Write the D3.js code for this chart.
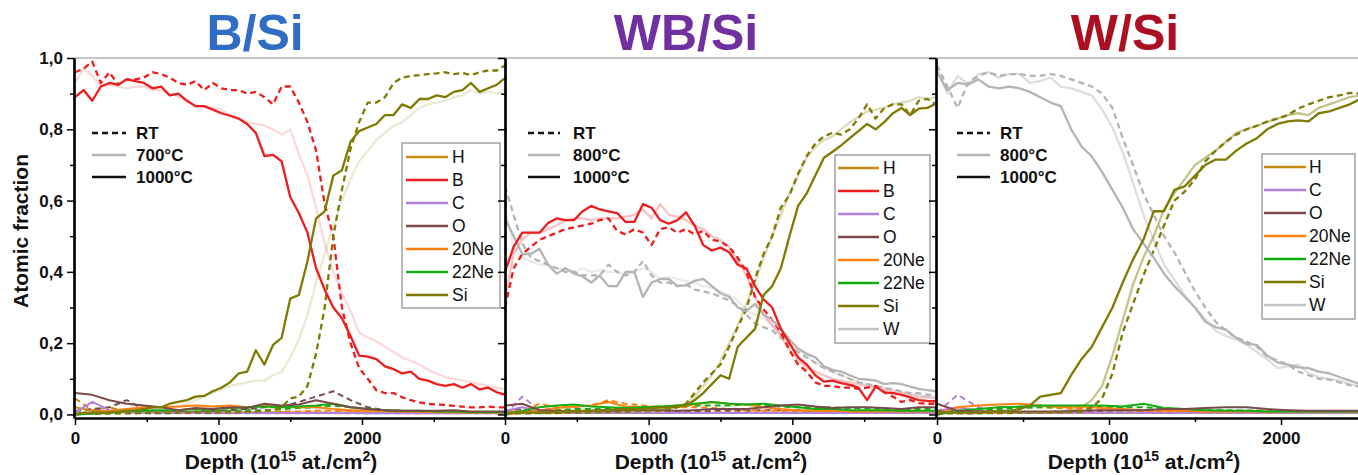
<!DOCTYPE html>
<html><head><meta charset="utf-8">
<script src="https://cdn.jsdelivr.net/npm/d3@7"></script>
<style>body{margin:0;background:#fff;overflow:hidden} text{font-family:"Liberation Sans",Arial,sans-serif}</style>
</head><body><svg id="c" width="1358" height="475"></svg>
<script>
// ---------- depth grids (10^15 at./cm^2) ----------
const depthFine = [0,60,120,180,240,300,360,420,480,540,600,660,720,780,840,900,960,1020,1080,1140,1200,1260,1320,1380,1440,1500,1560,1620,1680,1740,1800,1860,1920,1980,2040,2100,2160,2220,2280,2340,2400,2460,2520,2580,2640,2700,2760,2820,2880,2940,3000];
const depthCoarse = [0,120,240,360,480,600,720,840,960,1080,1200,1320,1440,1560,1680,1800,1920,2040,2160,2280,2400,2520,2640,2760,2880,3000];

// ---------- labels ----------
const titles = ["B/Si","WB/Si","W/Si"];
const condLabels = [["RT","700°C","1000°C"],["RT","800°C","1000°C"],["RT","800°C","1000°C"]];
const legendEls = [["H","B","C","O","20Ne","22Ne","Si"],["H","B","C","O","20Ne","22Ne","Si","W"],["H","C","O","20Ne","22Ne","Si","W"]];
const xTicks = [0,1000,2000];
const xMinor = [500,1500,2500];
const yTicks = [0,0.2,0.4,0.6,0.8,1.0];
const yMinor = [0.1,0.3,0.5,0.7,0.9];

// ---------- Panel 1: B/Si ----------
const p1_B_1000 = [0.89,0.91,0.88,0.92,0.93,0.925,0.94,0.935,0.93,0.915,0.92,0.895,0.90,0.88,0.865,0.865,0.855,0.845,0.838,0.83,0.815,0.79,0.725,0.728,0.71,0.61,0.565,0.51,0.41,0.35,0.30,0.27,0.22,0.165,0.162,0.155,0.135,0.127,0.115,0.12,0.10,0.095,0.085,0.08,0.085,0.075,0.085,0.07,0.075,0.062,0.055];
const p1_B_RT = [0.96,0.97,0.99,0.93,0.96,0.925,0.94,0.94,0.945,0.96,0.955,0.945,0.93,0.925,0.935,0.91,0.93,0.915,0.91,0.91,0.90,0.905,0.89,0.87,0.92,0.92,0.875,0.82,0.74,0.59,0.50,0.30,0.20,0.13,0.10,0.068,0.06,0.06,0.048,0.04,0.034,0.03,0.028,0.027,0.024,0.022,0.02,0.02,0.022,0.02,0.02];
const p1_B_700 = [0.93,0.97,0.95,0.92,0.925,0.92,0.915,0.92,0.92,0.91,0.91,0.90,0.89,0.88,0.865,0.865,0.86,0.855,0.84,0.83,0.82,0.815,0.81,0.80,0.785,0.80,0.73,0.67,0.58,0.48,0.40,0.34,0.29,0.23,0.215,0.205,0.19,0.175,0.16,0.15,0.14,0.125,0.115,0.105,0.10,0.095,0.09,0.085,0.08,0.075,0.07];
const p1_Si_1000 = [0.0,0.005,0.005,0.005,0.005,0.008,0.01,0.012,0.015,0.02,0.02,0.03,0.035,0.04,0.05,0.052,0.065,0.075,0.09,0.115,0.12,0.18,0.14,0.195,0.215,0.325,0.335,0.43,0.55,0.57,0.67,0.685,0.765,0.795,0.805,0.815,0.84,0.84,0.87,0.86,0.885,0.885,0.895,0.89,0.905,0.91,0.93,0.905,0.915,0.925,0.945];
const p1_Si_RT = [0.002,0.002,0.002,0.002,0.003,0.003,0.003,0.003,0.004,0.004,0.004,0.004,0.005,0.005,0.005,0.005,0.005,0.006,0.006,0.006,0.007,0.008,0.01,0.012,0.02,0.045,0.05,0.08,0.17,0.30,0.50,0.63,0.745,0.82,0.875,0.875,0.89,0.93,0.945,0.95,0.952,0.955,0.957,0.96,0.955,0.958,0.952,0.96,0.965,0.965,0.98];
const p1_Si_700 = [0.003,0.003,0.003,0.004,0.004,0.004,0.005,0.005,0.006,0.007,0.008,0.01,0.02,0.03,0.04,0.05,0.06,0.07,0.08,0.085,0.09,0.095,0.095,0.11,0.12,0.16,0.21,0.28,0.37,0.45,0.53,0.60,0.66,0.71,0.74,0.77,0.79,0.81,0.82,0.84,0.86,0.87,0.875,0.88,0.89,0.895,0.91,0.90,0.905,0.90,0.915];
const p1_H_1000 = [0.02,0.01,0.008,0.006,0.006,0.005,0.005,0.005,0.005,0.005,0.005,0.005,0.005,0.004,0.004,0.004,0.004,0.004,0.004,0.004,0.004,0.004,0.004,0.004,0.004,0.004];
const p1_H_RT = [0.045,0.012,0.02,0.008,0.01,0.005,0.008,0.005,0.006,0.005,0.006,0.005,0.006,0.005,0.006,0.005,0.006,0.005,0.005,0.005,0.004,0.004,0.004,0.004,0.004,0.004];
const p1_C_1000 = [0.005,0.035,0.012,0.006,0.005,0.005,0.004,0.004,0.004,0.004,0.004,0.004,0.004,0.004,0.004,0.004,0.004,0.003,0.003,0.003,0.003,0.003,0.003,0.003,0.003,0.003];
const p1_C_RT = [0.008,0.015,0.008,0.004,0.004,0.003,0.003,0.003,0.003,0.003,0.003,0.003,0.003,0.003,0.003,0.003,0.003,0.003,0.003,0.003,0.003,0.003,0.003,0.003,0.003,0.003];
const p1_O_1000 = [0.06,0.055,0.04,0.03,0.025,0.02,0.012,0.018,0.015,0.02,0.018,0.03,0.025,0.028,0.04,0.03,0.02,0.015,0.012,0.01,0.01,0.01,0.012,0.008,0.008,0.008];
const p1_O_RT = [0.01,0.015,0.02,0.04,0.015,0.008,0.006,0.008,0.01,0.012,0.015,0.02,0.02,0.035,0.05,0.065,0.04,0.02,0.012,0.01,0.008,0.008,0.006,0.006,0.006,0.006];
const p1_Ne20_1000 = [0.0,0.005,0.01,0.015,0.02,0.02,0.022,0.025,0.022,0.025,0.02,0.025,0.022,0.02,0.02,0.015,0.012,0.01,0.01,0.008,0.008,0.006,0.006,0.005,0.005,0.005];
const p1_Ne20_RT = [0.0,0.003,0.005,0.006,0.006,0.006,0.006,0.006,0.008,0.008,0.008,0.008,0.008,0.008,0.01,0.01,0.008,0.006,0.005,0.005,0.004,0.004,0.004,0.004,0.004,0.004];
const p1_Ne22_1000 = [0.0,0.002,0.005,0.008,0.01,0.012,0.012,0.015,0.015,0.018,0.02,0.022,0.02,0.022,0.025,0.03,0.02,0.015,0.012,0.01,0.01,0.008,0.008,0.006,0.006,0.006];
const p1_Ne22_RT = [0.0,0.002,0.003,0.004,0.005,0.005,0.006,0.008,0.01,0.01,0.012,0.012,0.015,0.018,0.02,0.025,0.02,0.015,0.01,0.008,0.006,0.005,0.005,0.005,0.005,0.005];

// ---------- Panel 2: WB/Si ----------
const p2_B_1000 = [0.40,0.47,0.51,0.51,0.51,0.537,0.55,0.545,0.545,0.57,0.585,0.575,0.57,0.565,0.54,0.54,0.59,0.58,0.545,0.535,0.545,0.567,0.53,0.475,0.46,0.468,0.455,0.42,0.41,0.36,0.323,0.30,0.24,0.20,0.16,0.14,0.11,0.092,0.095,0.088,0.083,0.075,0.04,0.078,0.062,0.06,0.055,0.048,0.04,0.038,0.037];
const p2_B_RT = [0.30,0.41,0.45,0.47,0.49,0.50,0.51,0.52,0.525,0.53,0.535,0.545,0.55,0.515,0.505,0.52,0.51,0.475,0.52,0.525,0.51,0.52,0.505,0.515,0.49,0.485,0.47,0.44,0.40,0.33,0.295,0.265,0.23,0.18,0.14,0.12,0.09,0.08,0.08,0.075,0.075,0.072,0.075,0.08,0.062,0.05,0.035,0.04,0.032,0.03,0.03];
const p2_B_800 = [0.33,0.45,0.49,0.51,0.51,0.52,0.53,0.545,0.55,0.55,0.545,0.55,0.55,0.55,0.555,0.56,0.575,0.55,0.59,0.56,0.555,0.545,0.53,0.52,0.50,0.49,0.47,0.43,0.39,0.33,0.28,0.25,0.22,0.18,0.155,0.13,0.12,0.11,0.10,0.095,0.09,0.085,0.08,0.075,0.07,0.065,0.06,0.055,0.05,0.048,0.045];
const p2_W_1000 = [0.55,0.50,0.45,0.45,0.465,0.42,0.395,0.41,0.395,0.387,0.37,0.39,0.36,0.36,0.40,0.40,0.33,0.37,0.38,0.38,0.36,0.362,0.375,0.38,0.36,0.34,0.33,0.30,0.29,0.31,0.28,0.265,0.24,0.21,0.185,0.17,0.16,0.135,0.125,0.12,0.11,0.10,0.098,0.095,0.085,0.088,0.085,0.078,0.072,0.068,0.065];
const p2_W_RT = [0.64,0.56,0.48,0.44,0.43,0.42,0.41,0.40,0.40,0.39,0.39,0.39,0.42,0.40,0.39,0.40,0.43,0.39,0.37,0.37,0.36,0.365,0.35,0.345,0.34,0.33,0.32,0.305,0.28,0.255,0.245,0.235,0.215,0.195,0.175,0.16,0.145,0.13,0.12,0.11,0.10,0.09,0.085,0.08,0.075,0.07,0.065,0.06,0.06,0.055,0.055];
const p2_W_800 = [0.58,0.47,0.44,0.43,0.42,0.42,0.41,0.41,0.40,0.41,0.40,0.405,0.40,0.40,0.39,0.40,0.41,0.40,0.38,0.385,0.38,0.375,0.37,0.36,0.355,0.345,0.335,0.32,0.29,0.28,0.27,0.25,0.225,0.20,0.18,0.165,0.145,0.13,0.12,0.11,0.10,0.092,0.085,0.08,0.075,0.07,0.065,0.06,0.055,0.05,0.05];
const p2_Si_1000 = [0.005,0.005,0.005,0.005,0.005,0.005,0.008,0.008,0.01,0.01,0.01,0.012,0.012,0.015,0.015,0.015,0.015,0.018,0.02,0.02,0.022,0.025,0.04,0.06,0.085,0.11,0.10,0.19,0.215,0.24,0.335,0.36,0.41,0.50,0.585,0.62,0.67,0.72,0.737,0.755,0.775,0.795,0.815,0.80,0.82,0.845,0.86,0.84,0.858,0.86,0.872];
const p2_Si_RT = [0.003,0.003,0.003,0.003,0.004,0.004,0.004,0.005,0.005,0.005,0.006,0.006,0.007,0.008,0.008,0.01,0.01,0.01,0.012,0.015,0.02,0.03,0.06,0.09,0.115,0.14,0.19,0.245,0.295,0.38,0.45,0.50,0.58,0.615,0.675,0.725,0.76,0.78,0.79,0.785,0.80,0.83,0.87,0.83,0.86,0.87,0.87,0.84,0.88,0.885,0.87];
const p2_Si_800 = [0.005,0.005,0.005,0.005,0.005,0.006,0.006,0.007,0.008,0.008,0.009,0.01,0.01,0.01,0.012,0.012,0.012,0.014,0.015,0.016,0.02,0.03,0.05,0.08,0.11,0.15,0.20,0.25,0.31,0.37,0.44,0.50,0.56,0.62,0.67,0.72,0.75,0.77,0.78,0.80,0.82,0.835,0.85,0.855,0.86,0.87,0.875,0.88,0.89,0.885,0.89];
const p2_H_1000 = [0.01,0.006,0.005,0.005,0.005,0.005,0.005,0.005,0.005,0.005,0.005,0.005,0.005,0.005,0.005,0.005,0.005,0.005,0.005,0.005,0.005,0.005,0.005,0.005,0.005,0.005];
const p2_H_RT = [0.006,0.004,0.004,0.004,0.004,0.004,0.004,0.004,0.004,0.004,0.004,0.004,0.004,0.004,0.004,0.004,0.004,0.004,0.004,0.004,0.004,0.004,0.004,0.004,0.004,0.004];
const p2_C_1000 = [0.01,0.02,0.008,0.006,0.005,0.005,0.005,0.005,0.005,0.005,0.004,0.004,0.004,0.004,0.004,0.004,0.004,0.004,0.004,0.004,0.004,0.004,0.004,0.004,0.004,0.004];
const p2_C_RT = [0.0,0.05,0.012,0.005,0.004,0.004,0.004,0.004,0.004,0.004,0.004,0.004,0.004,0.004,0.004,0.004,0.004,0.004,0.004,0.004,0.004,0.004,0.004,0.004,0.004,0.004];
const p2_O_1000 = [0.025,0.03,0.012,0.01,0.008,0.01,0.01,0.012,0.012,0.012,0.01,0.012,0.015,0.015,0.015,0.02,0.025,0.028,0.022,0.018,0.02,0.02,0.018,0.015,0.02,0.02];
const p2_O_RT = [0.01,0.015,0.008,0.006,0.006,0.006,0.006,0.008,0.008,0.008,0.008,0.008,0.01,0.01,0.01,0.012,0.012,0.012,0.01,0.01,0.01,0.01,0.01,0.01,0.01,0.01];
const p2_Ne20_1000 = [0.0,0.005,0.012,0.018,0.022,0.025,0.035,0.022,0.02,0.02,0.025,0.028,0.035,0.03,0.028,0.02,0.015,0.012,0.01,0.01,0.008,0.008,0.008,0.008,0.008,0.008];
const p2_Ne20_RT = [0.0,0.01,0.03,0.02,0.02,0.025,0.04,0.03,0.025,0.02,0.02,0.02,0.018,0.015,0.012,0.01,0.01,0.008,0.008,0.006,0.006,0.006,0.006,0.006,0.006,0.006];
const p2_Ne22_1000 = [0.0,0.01,0.02,0.025,0.028,0.022,0.02,0.018,0.02,0.022,0.025,0.03,0.035,0.03,0.028,0.03,0.025,0.02,0.015,0.015,0.012,0.012,0.012,0.01,0.01,0.01];
const p2_Ne22_RT = [0.0,0.005,0.01,0.012,0.015,0.015,0.015,0.02,0.02,0.022,0.025,0.025,0.025,0.025,0.028,0.025,0.022,0.02,0.02,0.02,0.018,0.018,0.015,0.015,0.015,0.015];

// ---------- Panel 3: W/Si ----------
const p3_W_1000 = [0.96,0.91,0.93,0.925,0.94,0.92,0.915,0.92,0.915,0.905,0.89,0.875,0.865,0.80,0.752,0.724,0.68,0.63,0.58,0.52,0.48,0.44,0.395,0.36,0.33,0.30,0.26,0.245,0.238,0.215,0.198,0.195,0.165,0.146,0.14,0.132,0.13,0.12,0.115,0.105,0.095,0.085];
const p3_W_RT = [0.98,0.92,0.86,0.93,0.95,0.96,0.95,0.955,0.955,0.95,0.95,0.955,0.95,0.94,0.93,0.92,0.90,0.86,0.775,0.70,0.62,0.56,0.50,0.455,0.40,0.345,0.30,0.26,0.235,0.215,0.205,0.19,0.162,0.152,0.14,0.12,0.11,0.10,0.098,0.09,0.082,0.078];
const p3_W_800 = [0.97,0.90,0.95,0.925,0.955,0.96,0.945,0.955,0.955,0.93,0.935,0.945,0.92,0.915,0.905,0.895,0.855,0.805,0.735,0.65,0.56,0.49,0.42,0.378,0.335,0.30,0.268,0.235,0.22,0.21,0.195,0.175,0.155,0.13,0.135,0.14,0.115,0.105,0.10,0.095,0.085,0.078];
const p3_Si_1000 = [0.01,0.005,0.005,0.005,0.005,0.008,0.01,0.01,0.015,0.025,0.05,0.055,0.06,0.11,0.155,0.19,0.245,0.30,0.37,0.435,0.49,0.57,0.57,0.63,0.64,0.67,0.70,0.715,0.715,0.74,0.76,0.775,0.80,0.815,0.822,0.825,0.822,0.845,0.85,0.86,0.87,0.885];
const p3_Si_RT = [0.003,0.003,0.003,0.003,0.003,0.004,0.004,0.004,0.005,0.005,0.005,0.006,0.006,0.007,0.008,0.02,0.045,0.115,0.23,0.31,0.39,0.46,0.53,0.60,0.625,0.66,0.71,0.74,0.765,0.785,0.80,0.81,0.822,0.83,0.84,0.858,0.87,0.88,0.89,0.895,0.902,0.90];
const p3_Si_800 = [0.004,0.004,0.004,0.004,0.004,0.005,0.005,0.005,0.006,0.006,0.007,0.008,0.01,0.012,0.02,0.04,0.08,0.165,0.265,0.365,0.44,0.50,0.575,0.62,0.66,0.70,0.72,0.74,0.765,0.79,0.80,0.81,0.82,0.83,0.84,0.845,0.84,0.86,0.87,0.88,0.89,0.895];
const p3_H_1000 = [0.01,0.006,0.005,0.005,0.005,0.005,0.005,0.005,0.005,0.005,0.005,0.005,0.005,0.005,0.005,0.005,0.005,0.005,0.005,0.005,0.005,0.005];
const p3_H_RT = [0.005,0.004,0.004,0.004,0.004,0.004,0.004,0.004,0.004,0.004,0.004,0.004,0.004,0.004,0.004,0.004,0.004,0.004,0.004,0.004,0.004,0.004];
const p3_C_1000 = [0.01,0.02,0.01,0.006,0.005,0.005,0.005,0.005,0.005,0.005,0.005,0.005,0.005,0.005,0.005,0.005,0.005,0.005,0.005,0.005,0.005,0.005];
const p3_C_RT = [0.005,0.055,0.02,0.008,0.005,0.004,0.004,0.004,0.004,0.004,0.004,0.004,0.004,0.004,0.004,0.004,0.004,0.004,0.004,0.004,0.004,0.004];
const p3_O_1000 = [0.03,0.01,0.008,0.008,0.008,0.008,0.008,0.01,0.012,0.012,0.012,0.015,0.015,0.018,0.02,0.02,0.015,0.012,0.01,0.01,0.01,0.01];
const p3_O_RT = [0.01,0.01,0.006,0.006,0.006,0.006,0.006,0.006,0.008,0.008,0.008,0.008,0.01,0.01,0.01,0.01,0.01,0.008,0.008,0.008,0.008,0.008];
const p3_Ne20_1000 = [0.0,0.02,0.025,0.028,0.03,0.025,0.02,0.022,0.018,0.015,0.012,0.01,0.01,0.008,0.008,0.008,0.008,0.008,0.008,0.008,0.008,0.008];
const p3_Ne20_RT = [0.0,0.01,0.015,0.02,0.02,0.02,0.018,0.015,0.012,0.01,0.008,0.008,0.006,0.006,0.006,0.006,0.006,0.006,0.006,0.006,0.006,0.006];
const p3_Ne22_1000 = [0.0,0.01,0.015,0.02,0.022,0.025,0.025,0.025,0.025,0.022,0.03,0.018,0.015,0.012,0.01,0.01,0.008,0.008,0.008,0.008,0.008,0.008];
const p3_Ne22_RT = [0.0,0.008,0.012,0.015,0.018,0.02,0.02,0.022,0.022,0.02,0.02,0.018,0.015,0.012,0.012,0.01,0.01,0.01,0.008,0.008,0.008,0.008];

// ---------- styles ----------
const COLORS = {"H":"#c98a10","B":"#ee1c1c","C":"#b380de","O":"#7a4a4a","20Ne":"#ff800e","22Ne":"#12ad12","Si":"#7f7a00","W":"#b4b4b4"};
const LEGEND_COLORS = Object.assign({}, COLORS, {"W":"#c4c4c4"});
const titleColors = ["#2f6ec4","#7030a0","#ad0f22"];
const faintOpacity = [0.17,0.27,0.45];

// ---------- series assembly ----------
const F = depthFine, Cg = depthCoarse;
const series = [
  {p:0,el:"B",c:"F",d:F,v:p1_B_700},{p:0,el:"Si",c:"F",d:F,v:p1_Si_700},
  {p:1,el:"W",c:"F",d:F,v:p2_W_800},{p:1,el:"B",c:"F",d:F,v:p2_B_800},{p:1,el:"Si",c:"F",d:F,v:p2_Si_800},
  {p:2,el:"W",c:"F",d:F,v:p3_W_800},{p:2,el:"Si",c:"F",d:F,v:p3_Si_800},
  {p:0,el:"H",c:"RT",d:Cg,v:p1_H_RT},{p:0,el:"C",c:"RT",d:Cg,v:p1_C_RT},{p:0,el:"O",c:"RT",d:Cg,v:p1_O_RT},{p:0,el:"20Ne",c:"RT",d:Cg,v:p1_Ne20_RT},{p:0,el:"22Ne",c:"RT",d:Cg,v:p1_Ne22_RT},
  {p:0,el:"H",c:"HT",d:Cg,v:p1_H_1000},{p:0,el:"C",c:"HT",d:Cg,v:p1_C_1000},{p:0,el:"20Ne",c:"HT",d:Cg,v:p1_Ne20_1000},{p:0,el:"22Ne",c:"HT",d:Cg,v:p1_Ne22_1000},{p:0,el:"O",c:"HT",d:Cg,v:p1_O_1000},
  {p:1,el:"H",c:"RT",d:Cg,v:p2_H_RT},{p:1,el:"C",c:"RT",d:Cg,v:p2_C_RT},{p:1,el:"O",c:"RT",d:Cg,v:p2_O_RT},{p:1,el:"20Ne",c:"RT",d:Cg,v:p2_Ne20_RT},{p:1,el:"22Ne",c:"RT",d:Cg,v:p2_Ne22_RT},
  {p:1,el:"H",c:"HT",d:Cg,v:p2_H_1000},{p:1,el:"C",c:"HT",d:Cg,v:p2_C_1000},{p:1,el:"20Ne",c:"HT",d:Cg,v:p2_Ne20_1000},{p:1,el:"22Ne",c:"HT",d:Cg,v:p2_Ne22_1000},{p:1,el:"O",c:"HT",d:Cg,v:p2_O_1000},
  {p:2,el:"H",c:"RT",d:Cg,v:p3_H_RT},{p:2,el:"C",c:"RT",d:Cg,v:p3_C_RT},{p:2,el:"O",c:"RT",d:Cg,v:p3_O_RT},{p:2,el:"20Ne",c:"RT",d:Cg,v:p3_Ne20_RT},{p:2,el:"22Ne",c:"RT",d:Cg,v:p3_Ne22_RT},
  {p:2,el:"H",c:"HT",d:Cg,v:p3_H_1000},{p:2,el:"C",c:"HT",d:Cg,v:p3_C_1000},{p:2,el:"20Ne",c:"HT",d:Cg,v:p3_Ne20_1000},{p:2,el:"22Ne",c:"HT",d:Cg,v:p3_Ne22_1000},{p:2,el:"O",c:"HT",d:Cg,v:p3_O_1000},
  {p:0,el:"B",c:"RT",d:F,v:p1_B_RT},{p:0,el:"Si",c:"RT",d:F,v:p1_Si_RT},
  {p:1,el:"W",c:"RT",d:F,v:p2_W_RT},{p:1,el:"B",c:"RT",d:F,v:p2_B_RT},{p:1,el:"Si",c:"RT",d:F,v:p2_Si_RT},
  {p:2,el:"W",c:"RT",d:F,v:p3_W_RT},{p:2,el:"Si",c:"RT",d:F,v:p3_Si_RT},
  {p:0,el:"B",c:"HT",d:F,v:p1_B_1000},{p:0,el:"Si",c:"HT",d:F,v:p1_Si_1000},
  {p:1,el:"W",c:"HT",d:F,v:p2_W_1000},{p:1,el:"B",c:"HT",d:F,v:p2_B_1000},{p:1,el:"Si",c:"HT",d:F,v:p2_Si_1000},
  {p:2,el:"W",c:"HT",d:F,v:p3_W_1000},{p:2,el:"Si",c:"HT",d:F,v:p3_Si_1000}
];

// ---------- layout ----------
const svg = d3.select("#c");
const Y0 = 418, Y1 = 58;
const y = d3.scaleLinear().domain([-0.01, 1.0]).range([Y0, Y1]);
const panels = [
  {x: d3.scaleLinear().domain([0,3000]).range([75,505.5]), left:74, right:505, title:255, xl:281, cond:[92,126,136], leg:{x:402,y:143,w:98,lx1:406,lx2:448,tx:452,y0:157}},
  {x: d3.scaleLinear().domain([0,3000]).range([505,936]), left:505, right:936, title:686, xl:711, cond:[528,560,573], leg:{x:835,y:155,w:95,lx1:838,lx2:879,tx:883,y0:168}},
  {x: d3.scaleLinear().domain([0,2450]).range([937,1358.4]), left:936, right:1358, title:1125, xl:1144, cond:[957,990,1000], leg:{x:1262,y:154,w:93,lx1:1264,lx2:1306,tx:1309,y0:167}}
];

const defs = svg.append("defs");
panels.forEach((P,i)=>{
  defs.append("clipPath").attr("id","clip"+i).append("rect")
    .attr("x",P.left).attr("y",Y1).attr("width",P.right-P.left).attr("height",Y0-Y1);
});

svg.append("line").attr("x1",74).attr("x2",1358).attr("y1",Y1).attr("y2",Y1).attr("stroke","#8a8a8a").attr("stroke-width",1);

const layers = panels.map((P,i)=>svg.append("g").attr("clip-path",`url(#clip${i})`));
series.forEach(s=>{
  const P = panels[s.p];
  const n = Math.min(s.d.length, s.v.length);
  const pts = d3.range(n).map(k=>[s.d[k], s.v[k]]);
  const line = d3.line().x(d=>P.x(d[0])).y(d=>y(d[1]));
  const main = ["B","Si","W"].includes(s.el);
  const path = layers[s.p].append("path").attr("d", line(pts)).attr("fill","none")
    .attr("stroke", COLORS[s.el]).attr("stroke-width", main ? 2.3 : 2)
    .attr("stroke-linejoin","round");
  if (s.c === "RT") path.attr("stroke-dasharray","6,4");
  if (s.c === "F") path.attr("stroke-opacity", faintOpacity[s.p]);
});

const fmtY = d => d.toFixed(1).replace(".", ",");
panels.forEach((P,i)=>{
  const gx = svg.append("g").attr("transform",`translate(0,${Y0})`);
  gx.call(d3.axisBottom(P.x).tickValues(xTicks).tickSize(7).tickSizeOuter(0).tickPadding(7).tickFormat(d3.format("d")));
  gx.append("g").call(d3.axisBottom(P.x).tickValues(xMinor.filter(v=>v<=P.x.domain()[1])).tickSize(4).tickSizeOuter(0).tickFormat(""));
  gx.selectAll(".domain").attr("stroke","#000").attr("stroke-width",2);
  gx.selectAll(".tick line").attr("stroke","#000").attr("stroke-width",1.5);
  gx.selectAll("text").attr("font-size",17).attr("font-weight","bold").attr("fill","#111");

  const gy = svg.append("g").attr("transform",`translate(${P.left},0)`);
  gy.call(d3.axisLeft(y).tickValues(yTicks).tickSize(7).tickSizeOuter(0).tickPadding(4).tickFormat(i===0?fmtY:""));
  gy.append("g").call(d3.axisLeft(y).tickValues(yMinor).tickSize(4).tickSizeOuter(0).tickFormat(""));
  gy.selectAll(".domain").attr("stroke","#000").attr("stroke-width",2.2);
  gy.selectAll(".tick line").attr("stroke","#000").attr("stroke-width",1.5);
  gy.selectAll("text").attr("font-size",17).attr("font-weight","bold").attr("fill","#111");

  svg.append("text").attr("x",P.title).attr("y",50).attr("text-anchor","middle")
    .attr("font-size",50).attr("font-weight","bold").attr("fill",titleColors[i]).text(titles[i]);

  const xl = svg.append("text").attr("x",P.xl).attr("y",469).attr("text-anchor","middle")
    .attr("font-size",21).attr("font-weight","bold").attr("fill","#111");
  xl.append("tspan").text("Depth (10");
  xl.append("tspan").attr("dy",-8).attr("font-size",14).text("15");
  xl.append("tspan").attr("dy",8).text(" at./cm");
  xl.append("tspan").attr("dy",-8).attr("font-size",14).text("2");
  xl.append("tspan").attr("dy",8).text(")");

  const [a,b,tx] = P.cond;
  const cstyles = [{col:"#111",dash:"6,4"},{col:"#b4b4b4",dash:null},{col:"#111",dash:null}];
  condLabels[i].forEach((lab,k)=>{
    const yy = 133 + k*22;
    const ln = svg.append("line").attr("x1",a).attr("x2",b).attr("y1",yy).attr("y2",yy)
      .attr("stroke",cstyles[k].col).attr("stroke-width",2.5);
    if (cstyles[k].dash) ln.attr("stroke-dasharray",cstyles[k].dash);
    svg.append("text").attr("x",tx).attr("y",yy+6).attr("font-size",17).attr("font-weight","bold").attr("fill","#111").text(lab);
  });

  const L = P.leg, els = legendEls[i];
  const h = els.length*23 + 4;
  svg.append("rect").attr("x",L.x).attr("y",L.y).attr("width",L.w).attr("height",h)
    .attr("fill","#fff").attr("stroke","#8c8c8c").attr("stroke-width",1.2);
  els.forEach((el,k)=>{
    const yy = L.y0 + k*23;
    svg.append("line").attr("x1",L.lx1).attr("x2",L.lx2).attr("y1",yy).attr("y2",yy)
      .attr("stroke",LEGEND_COLORS[el]).attr("stroke-width",2.6);
    svg.append("text").attr("x",L.tx).attr("y",yy+6).attr("font-size",17.5).attr("fill","#111").text(el);
  });
});

svg.append("text").attr("transform","translate(28,231) rotate(-90)").attr("text-anchor","middle")
  .attr("font-size",21).attr("font-weight","bold").attr("fill","#111").text("Atomic fraction");
</script>
</body></html>
